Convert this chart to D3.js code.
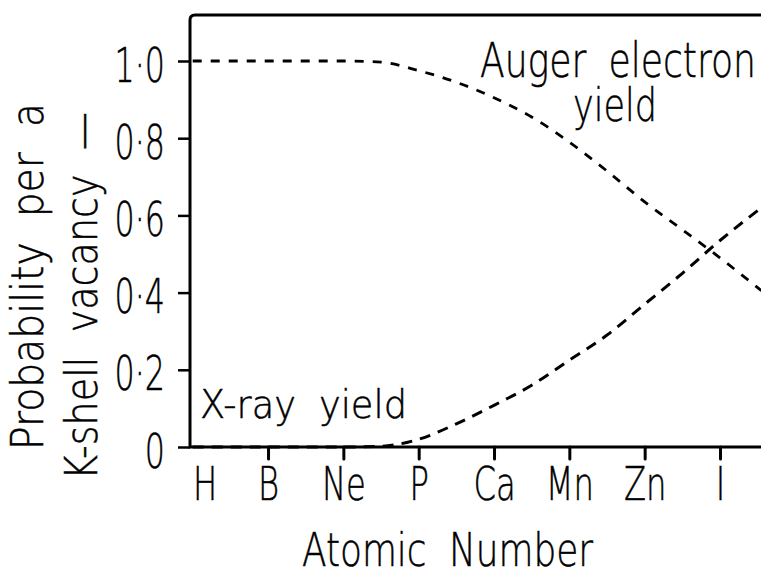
<!DOCTYPE html>
<html>
<head>
<meta charset="utf-8">
<script src="https://cdn.jsdelivr.net/npm/d3@7"></script>
<style>
  html, body { margin: 0; padding: 0; background: #fff; }
  svg { display: block; }
  text { font-family: "DejaVu Sans", sans-serif; font-weight: 200; fill: #000; stroke: #000; stroke-width: 0.5; }
</style>
</head>
<body>
<div id="chart"></div>
<script>
// elements along the x axis (evenly spaced, not to scale)
const elements = ["H", "B", "Ne", "P", "Ca", "Mn", "Zn", "I"];
const yTicks = [0, 0.2, 0.4, 0.6, 0.8, 1.0];

// position is in element slots (0 = H, 7 = I)
const augerPos   = [0, 1, 2, 2.5, 3, 3.5, 4, 4.5, 5, 5.5, 6, 6.5, 7, 7.55];
const augerYield = [1.0, 1.0, 1.0, 0.997, 0.975, 0.945, 0.905, 0.855, 0.79, 0.715, 0.635, 0.563, 0.49, 0.405];

const xrayPos   = [0, 1, 2, 2.5, 3, 3.5, 4, 4.5, 5, 5.5, 6, 6.5, 7, 7.55];
const xrayYield = [0, 0, 0, 0.002, 0.02, 0.06, 0.108, 0.16, 0.225, 0.29, 0.37, 0.45, 0.535, 0.62];

const width = 761, height = 573;
const plotLeft = 190, plotTop = 15, plotBottom = 447;

const svg = d3.select("#chart").append("svg")
    .attr("width", width)
    .attr("height", height);

const x = d3.scaleLinear().domain([0, 7]).range([192.7, 720]);
const y = d3.scaleLinear().domain([0, 1]).range([plotBottom, 61]);

// squeeze a text to a narrow lettering look
function squeeze(sel, k) {
  sel.each(function() {
    const len = this.getComputedTextLength();
    d3.select(this).attr("textLength", len * k).attr("lengthAdjust", "spacingAndGlyphs");
  });
}
function fit(sel, w) {
  sel.attr("textLength", w).attr("lengthAdjust", "spacingAndGlyphs");
}

// y axis
const yAxis = svg.append("g")
    .attr("transform", `translate(${plotLeft},0)`)
    .call(d3.axisLeft(y)
      .tickValues(yTicks)
      .tickSize(12)
      .tickPadding(13)
      .tickFormat(d => d === 0 ? "0" : d3.format(".1f")(d).replace(".", "\u00b7")));
yAxis.select(".domain").remove();
yAxis.selectAll("line").attr("stroke", "#000").attr("stroke-width", 2.5);
yAxis.selectAll("text")
    .attr("font-size", 48)
    .attr("dy", "0.42em")
    .call(squeeze, 0.66);

// x axis
const xAxis = svg.append("g")
    .attr("transform", `translate(0,${plotBottom})`)
    .call(d3.axisBottom(x)
      .tickValues(d3.range(elements.length))
      .tickSize(12)
      .tickPadding(8)
      .tickFormat(i => elements[i]));
xAxis.select(".domain").remove();
xAxis.selectAll("line").attr("stroke", "#000").attr("stroke-width", 3)
    .attr("stroke-linecap", "round");
xAxis.selectAll(".tick").filter(i => i === 0).select("line").remove();
xAxis.selectAll("text")
    .attr("font-size", 46)
    .call(squeeze, 0.7);
xAxis.selectAll(".tick").filter(i => i === 0).select("text").attr("dx", 12);

// frame: top, left and bottom sides (right side runs off the page)
svg.append("path")
    .attr("d", `M${width},${plotTop} H${plotLeft + 5} Q${plotLeft},${plotTop} ${plotLeft},${plotTop + 5} V${plotBottom} H${width}`)
    .attr("fill", "none")
    .attr("stroke", "#000")
    .attr("stroke-width", 3);

const line = d3.line()
    .x(d => x(d[0]))
    .y(d => y(d[1]))
    .curve(d3.curveMonotoneX);

svg.append("path")
    .datum(d3.zip(augerPos, augerYield))
    .attr("d", line)
    .attr("fill", "none")
    .attr("stroke", "#000")
    .attr("stroke-width", 2.8)
    .attr("stroke-dasharray", "9,9");

svg.append("path")
    .datum(d3.zip(xrayPos, xrayYield))
    .attr("d", line)
    .attr("fill", "none")
    .attr("stroke", "#000")
    .attr("stroke-width", 3)
    .attr("stroke-dasharray", "11,8");

// curve labels
svg.append("text")
    .attr("x", 480).attr("y", 77)
    .attr("font-size", 48)
    .attr("word-spacing", 14)
    .text("Auger electron")
    .call(fit, 276);

svg.append("text")
    .attr("x", 573).attr("y", 121)
    .attr("font-size", 47)
    .text("yield")
    .call(fit, 84);

svg.append("text")
    .attr("x", 200).attr("y", 418)
    .attr("font-size", 39)
    .attr("word-spacing", 12)
    .text("X-ray yield")
    .call(fit, 207);

// axis titles
svg.append("text")
    .attr("x", 302).attr("y", 566)
    .attr("font-size", 46)
    .attr("word-spacing", 14)
    .text("Atomic Number")
    .call(fit, 291);

svg.append("text")
    .attr("transform", "translate(43,450) rotate(-90)")
    .attr("font-size", 44)
    .attr("word-spacing", 14)
    .text("Probability per a")
    .call(fit, 347);

svg.append("text")
    .attr("transform", "translate(97,480) rotate(-90)")
    .attr("font-size", 44)
    .attr("word-spacing", 14)
    .text("K-shell vacancy \u2014")
    .call(fit, 368);
</script>
</body>
</html>
